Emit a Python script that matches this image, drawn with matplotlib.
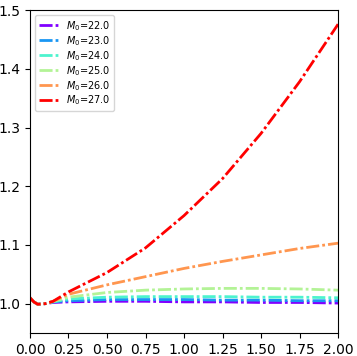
import numpy as np
import matplotlib
matplotlib.use("Agg")
import matplotlib.pyplot as plt

x = [0.0, 0.025, 0.05, 0.1, 0.15, 0.25, 0.5, 0.75, 1.0, 1.25, 1.5, 1.75, 2.0]
m0_values = [22.0, 23.0, 24.0, 25.0, 26.0, 27.0]
y22 = [1.010, 1.003, 0.999, 1.000, 1.002, 1.003, 1.004, 1.004, 1.003, 1.003, 1.002, 1.002, 1.001]
y23 = [1.010, 1.003, 0.999, 1.000, 1.003, 1.005, 1.007, 1.007, 1.007, 1.006, 1.006, 1.005, 1.005]
y24 = [1.010, 1.003, 0.999, 1.000, 1.003, 1.008, 1.011, 1.012, 1.012, 1.012, 1.011, 1.011, 1.010]
y25 = [1.010, 1.003, 0.999, 1.000, 1.004, 1.011, 1.019, 1.023, 1.025, 1.026, 1.026, 1.025, 1.023]
y26 = [1.010, 1.003, 0.999, 1.000, 1.004, 1.016, 1.032, 1.046, 1.060, 1.072, 1.083, 1.094, 1.103]
y27 = [1.010, 1.003, 0.999, 1.000, 1.004, 1.020, 1.053, 1.095, 1.150, 1.213, 1.290, 1.378, 1.476]
series = [y22, y23, y24, y25, y26, y27]

fig = plt.figure(figsize=(3.57, 3.56), dpi=100)
ax = fig.add_axes([0.084, 0.0646, 0.863, 0.907])
colors = plt.cm.rainbow(np.linspace(0, 1, len(m0_values)))
for m0, ys, c in zip(m0_values, series, colors):
    ax.plot(x, ys, linestyle=(0, (4.7, 1.1, 1.0, 1.1)), color=c, linewidth=2,
            label=r'$M_0$=%.1f' % m0)
ax.set_xlim(0, 2)
ax.set_ylim(0.95, 1.5)
ax.set_xticks([0, 0.25, 0.5, 0.75, 1.0, 1.25, 1.5, 1.75, 2.0])
ax.set_yticks([1.0, 1.1, 1.2, 1.3, 1.4, 1.5])
ax.legend(loc='upper left', fontsize=7, labelspacing=0.12)
fig.savefig("out.png", dpi=100)
